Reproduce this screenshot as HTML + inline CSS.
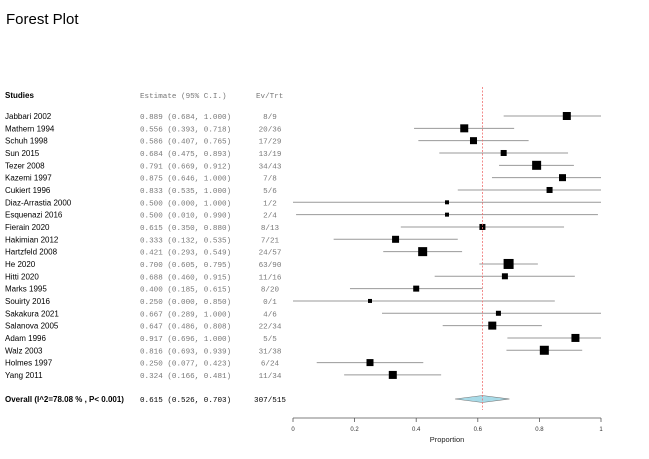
<!DOCTYPE html>
<html><head><meta charset="utf-8"><style>
html,body{margin:0;padding:0;background:#fff;width:649px;height:459px;overflow:hidden}
.t{font-family:"Liberation Sans",sans-serif;font-size:8px;fill:#000}
.m{font-family:"Liberation Mono",monospace;font-size:7.6px;fill:#777}
</style></head><body>
<svg id="s" width="649" height="459" xmlns="http://www.w3.org/2000/svg">
<text x="6" y="24" font-family="Liberation Sans,sans-serif" font-size="15" fill="#000">Forest Plot</text>
<text class="t" x="5" y="98" font-weight="bold">Studies</text>
<text class="m" x="140" y="98">Estimate (95% C.I.)</text>
<text class="m" x="256" y="98">Ev/Trt</text>
<g id="labels">
<text class="t" x="5" y="119">Jabbari 2002</text><text class="m" x="140" y="119">0.889 (0.684, 1.000)</text><text class="m" x="270" y="119" text-anchor="middle">8/9</text>
<text class="t" x="5" y="131.3">Mathern 1994</text><text class="m" x="140" y="131.3">0.556 (0.393, 0.718)</text><text class="m" x="270" y="131.3" text-anchor="middle">20/36</text>
<text class="t" x="5" y="143.7">Schuh 1998</text><text class="m" x="140" y="143.7">0.586 (0.407, 0.765)</text><text class="m" x="270" y="143.7" text-anchor="middle">17/29</text>
<text class="t" x="5" y="156">Sun 2015</text><text class="m" x="140" y="156">0.684 (0.475, 0.893)</text><text class="m" x="270" y="156" text-anchor="middle">13/19</text>
<text class="t" x="5" y="168.3">Tezer 2008</text><text class="m" x="140" y="168.3">0.791 (0.669, 0.912)</text><text class="m" x="270" y="168.3" text-anchor="middle">34/43</text>
<text class="t" x="5" y="180.7">Kazemi 1997</text><text class="m" x="140" y="180.7">0.875 (0.646, 1.000)</text><text class="m" x="270" y="180.7" text-anchor="middle">7/8</text>
<text class="t" x="5" y="193">Cukiert 1996</text><text class="m" x="140" y="193">0.833 (0.535, 1.000)</text><text class="m" x="270" y="193" text-anchor="middle">5/6</text>
<text class="t" x="5" y="205.3">Diaz-Arrastia 2000</text><text class="m" x="140" y="205.3">0.500 (0.000, 1.000)</text><text class="m" x="270" y="205.3" text-anchor="middle">1/2</text>
<text class="t" x="5" y="217.7">Esquenazi 2016</text><text class="m" x="140" y="217.7">0.500 (0.010, 0.990)</text><text class="m" x="270" y="217.7" text-anchor="middle">2/4</text>
<text class="t" x="5" y="230">Fierain 2020</text><text class="m" x="140" y="230">0.615 (0.350, 0.880)</text><text class="m" x="270" y="230" text-anchor="middle">8/13</text>
<text class="t" x="5" y="242.3">Hakimian 2012</text><text class="m" x="140" y="242.3">0.333 (0.132, 0.535)</text><text class="m" x="270" y="242.3" text-anchor="middle">7/21</text>
<text class="t" x="5" y="254.7">Hartzfeld 2008</text><text class="m" x="140" y="254.7">0.421 (0.293, 0.549)</text><text class="m" x="270" y="254.7" text-anchor="middle">24/57</text>
<text class="t" x="5" y="267">He 2020</text><text class="m" x="140" y="267">0.700 (0.605, 0.795)</text><text class="m" x="270" y="267" text-anchor="middle">63/90</text>
<text class="t" x="5" y="279.3">Hitti 2020</text><text class="m" x="140" y="279.3">0.688 (0.460, 0.915)</text><text class="m" x="270" y="279.3" text-anchor="middle">11/16</text>
<text class="t" x="5" y="291.7">Marks 1995</text><text class="m" x="140" y="291.7">0.400 (0.185, 0.615)</text><text class="m" x="270" y="291.7" text-anchor="middle">8/20</text>
<text class="t" x="5" y="304">Souirty 2016</text><text class="m" x="140" y="304">0.250 (0.000, 0.850)</text><text class="m" x="270" y="304" text-anchor="middle">0/1</text>
<text class="t" x="5" y="316.3">Sakakura 2021</text><text class="m" x="140" y="316.3">0.667 (0.289, 1.000)</text><text class="m" x="270" y="316.3" text-anchor="middle">4/6</text>
<text class="t" x="5" y="328.7">Salanova 2005</text><text class="m" x="140" y="328.7">0.647 (0.486, 0.808)</text><text class="m" x="270" y="328.7" text-anchor="middle">22/34</text>
<text class="t" x="5" y="341">Adam 1996</text><text class="m" x="140" y="341">0.917 (0.696, 1.000)</text><text class="m" x="270" y="341" text-anchor="middle">5/5</text>
<text class="t" x="5" y="353.3">Walz 2003</text><text class="m" x="140" y="353.3">0.816 (0.693, 0.939)</text><text class="m" x="270" y="353.3" text-anchor="middle">31/38</text>
<text class="t" x="5" y="365.7">Holmes 1997</text><text class="m" x="140" y="365.7">0.250 (0.077, 0.423)</text><text class="m" x="270" y="365.7" text-anchor="middle">6/24</text>
<text class="t" x="5" y="378">Yang 2011</text><text class="m" x="140" y="378">0.324 (0.166, 0.481)</text><text class="m" x="270" y="378" text-anchor="middle">11/34</text>
</g>
<text class="t" x="5" y="402" font-weight="bold">Overall (I^2=78.08 % , P&lt; 0.001)</text>
<text class="m" x="140" y="402" style="fill:#000">0.615 (0.526, 0.703)</text>
<text class="m" x="270" y="402" text-anchor="middle" style="fill:#000">307/515</text>
<g id="g"></g>
<line x1="293" y1="418" x2="601" y2="418" stroke="#555" stroke-width="0.8"/>
<g font-family="Liberation Sans,sans-serif" font-size="6" fill="#333" text-anchor="middle">
<text x="293" y="431">0</text><text x="354.6" y="431">0.2</text><text x="416.2" y="431">0.4</text><text x="477.8" y="431">0.6</text><text x="539.4" y="431">0.8</text><text x="601" y="431">1</text>
</g>
<text x="447" y="442" text-anchor="middle" font-family="Liberation Sans,sans-serif" font-size="7.5" fill="#222">Proportion</text>
</svg>
<script>
var d=[[.889,.684,1,8],[.556,.393,.718,8],[.586,.407,.765,7],[.684,.475,.893,6],[.791,.669,.912,9],[.875,.646,1,7],[.833,.535,1,6],[.5,0,1,4],[.5,.01,.99,4],[.615,.35,.88,6],[.333,.132,.535,7],[.421,.293,.549,9],[.7,.605,.795,10],[.688,.46,.915,6],[.4,.185,.615,6],[.25,0,.85,4],[.667,.289,1,5],[.647,.486,.808,8],[.917,.696,1,8],[.816,.693,.939,9],[.25,.077,.423,7],[.324,.166,.481,8]];
function X(v){return 293+308*v}
var h='';
for(var i=0;i<6;i++){var x=X(i*.2);h+='<line x1="'+x+'" y1="418" x2="'+x+'" y2="422" stroke="#555" stroke-width="0.8"/>';}
d.forEach(function(r,i){var y=116+12.33*i;h+='<line x1="'+X(r[1])+'" y1="'+y+'" x2="'+X(r[2])+'" y2="'+y+'" stroke="#999" stroke-width="1"/>';var s=r[3];h+='<rect x="'+(X(r[0])-s/2)+'" y="'+(y-s/2)+'" width="'+s+'" height="'+s+'" fill="#000"/>';});
h+='<polygon points="'+X(.526)+',399 '+X(.615)+',395.5 '+X(.703)+',399 '+X(.615)+',402.5" fill="#a8dbe8" stroke="#777" stroke-width="0.6"/>';
h+='<line x1="'+X(.615)+'" y1="87" x2="'+X(.615)+'" y2="410" stroke="#f07070" stroke-width="0.8" stroke-dasharray="2,1.5"/>';
document.getElementById('g').innerHTML=h;
</script>
</body></html>
